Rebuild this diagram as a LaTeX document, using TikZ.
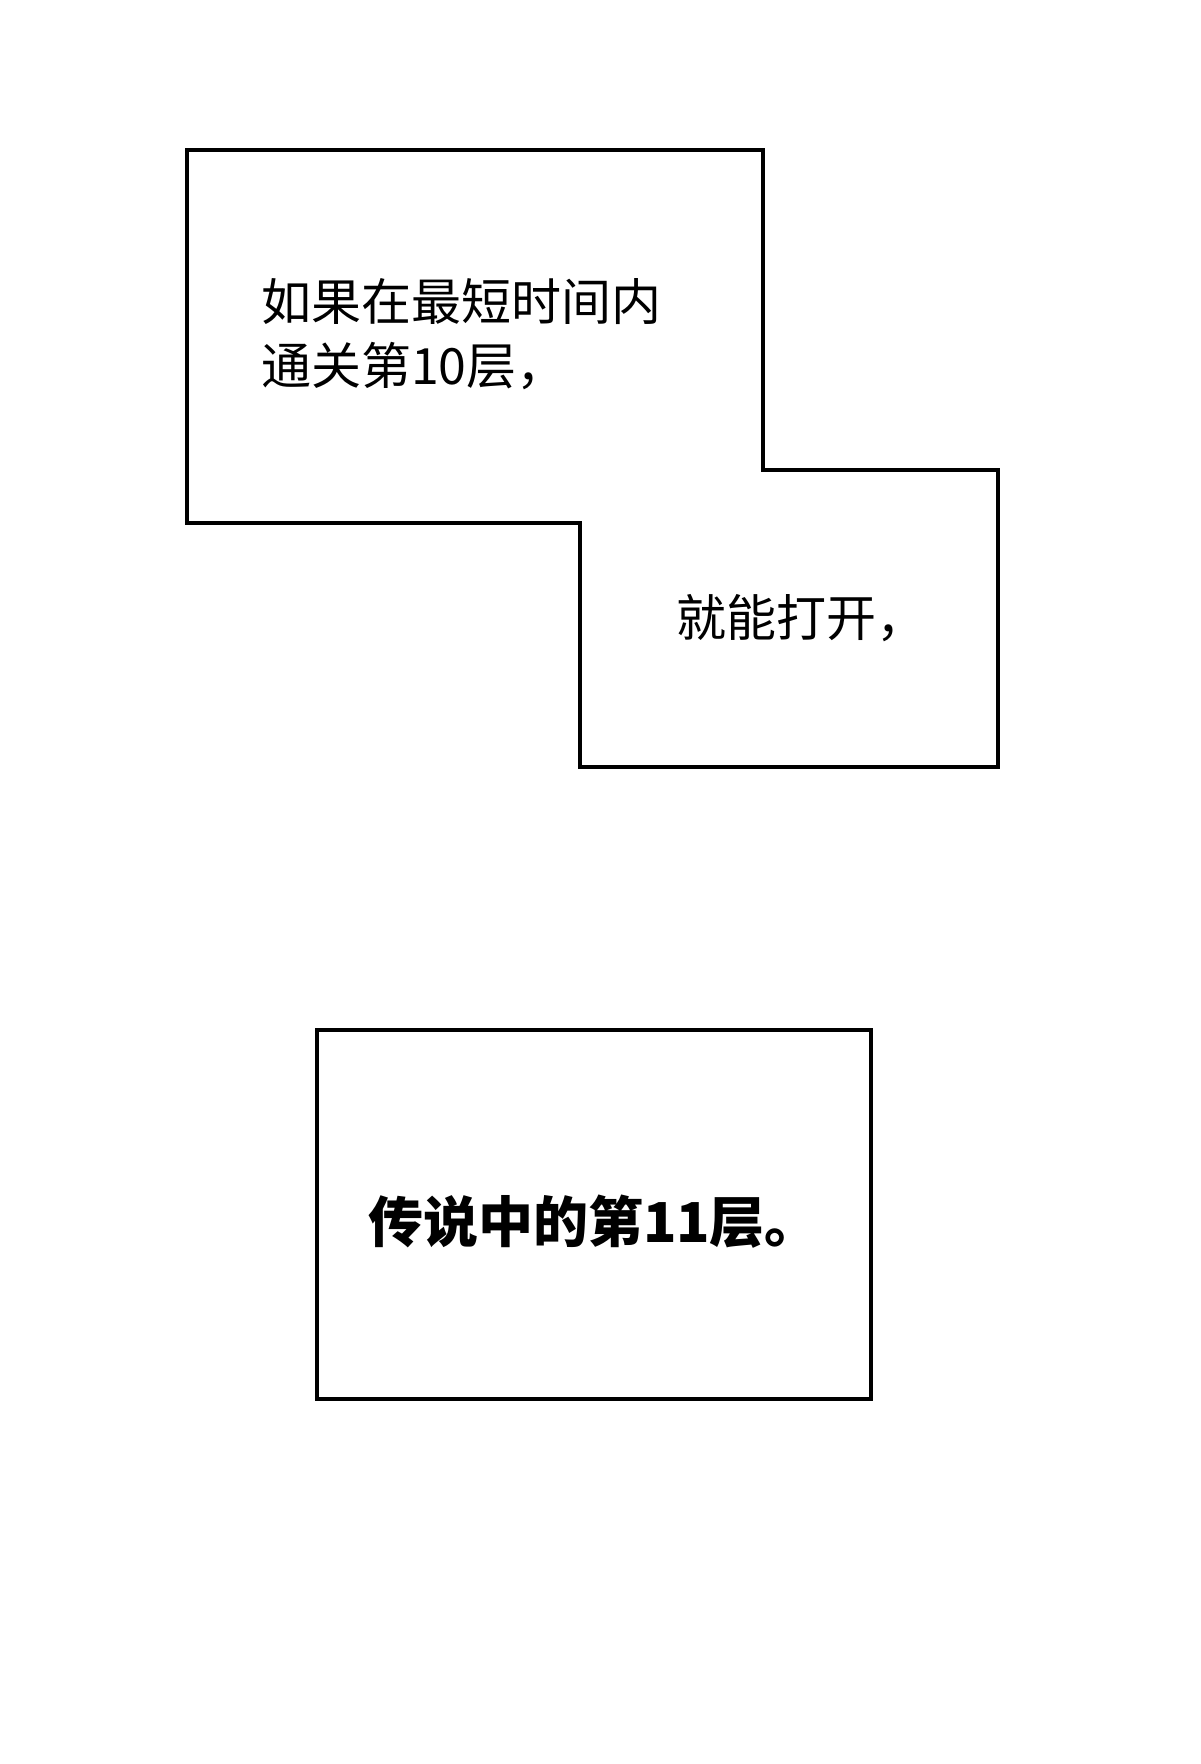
\documentclass[tikz,border=0pt]{standalone}
\usepackage{fontspec}
\newfontfamily\cjk{Noto Sans CJK SC}
\begin{document}
\begin{tikzpicture}[x=1pt,y=-1pt,
  frame/.style={draw=black,line width=3.3pt,line join=miter},
  txt/.style={font=\cjk\fontsize{50}{64}\selectfont,anchor=west,inner sep=0pt,align=left},
  btxt/.style={font=\cjk\bfseries\fontsize{55}{66}\selectfont,anchor=center,inner sep=0pt}]
\useasboundingbox[fill=white] (0,0) rectangle (1200,1764);
\draw[frame] (187,150) -- (763,150) -- (763,470) -- (998,470) -- (998,767) -- (580,767) -- (580,523) -- (187,523) -- cycle;
\node[txt] (t1) at (261,334) {如果在最短时间内\\通关第10层，};
\node[txt] (t2) at (676,618) {就能打开，};
\draw[frame] (317,1030) rectangle (871,1399);
\node[btxt] (t3) at (594,1222) {传说中的第11层。};
\end{tikzpicture}
\end{document}
